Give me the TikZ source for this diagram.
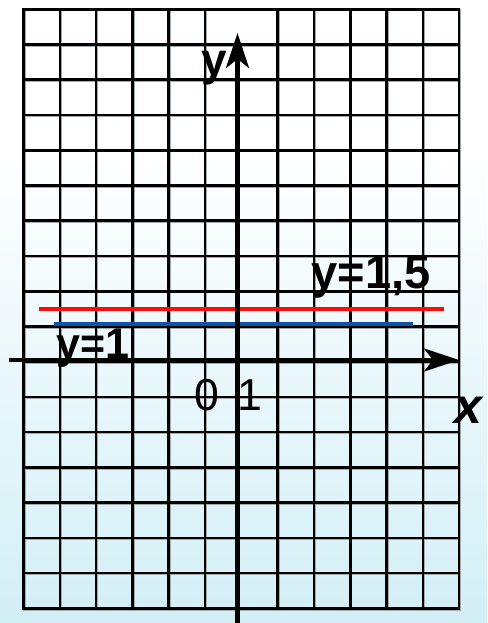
\documentclass[tikz,border=0pt]{standalone}
\usepackage{fontspec}
\setmainfont{Liberation Sans}
\usetikzlibrary{arrows.meta}
\definecolor{bgcyan}{HTML}{D2EFF6}
\definecolor{lineblue}{HTML}{0A55A5}
\definecolor{linered}{HTML}{FF0A0A}
\definecolor{shadowgray}{HTML}{A2ACAF}
\begin{document}
\begin{tikzpicture}[x=1pt,y=-1pt,
  gridline/.style={line width=2.6pt,black,line cap=rect},
  gridshadow/.style={line width=2.6pt,shadowgray,line cap=rect,shift={(0.9,0.9)}},
  axisline/.style={line width=4.6pt,black,-{Stealth[length=35pt,width=23pt,inset=9pt]}},
  graphline/.style={line width=4.8pt},
  boldlabel/.style={font=\bfseries, inner sep=0pt, anchor=base west},
  numlabel/.style={inner sep=0pt, anchor=base, font=\fontsize{44.7}{50}\selectfont}
]
\useasboundingbox (0,0) rectangle (487,623);
\fill[white] (0,0) rectangle (487,623);
\shade[top color=white,bottom color=bgcyan] (0,150) rectangle (487,623);
% grid shadow
\foreach \k in {0,...,17}{\pgfmathsetmacro\yy{9.3+35.24*\k}
  \draw[gridshadow] (23.5,\yy) -- (459,\yy);}
\foreach \j in {0,...,5,7,8,...,12}{\pgfmathsetmacro\xx{23.5+36.3*\j}
  \draw[gridshadow] (\xx,9.3) -- (\xx,608.3);}
% grid
\foreach \k in {0,...,17}{\pgfmathsetmacro\yy{9.3+35.24*\k}
  \draw[gridline] (23.5,\yy) -- (459,\yy);}
\foreach \j in {0,...,5,7,8,...,12}{\pgfmathsetmacro\xx{23.5+36.3*\j}
  \draw[gridline] (\xx,9.3) -- (\xx,608.3);}
% graphs
\coordinate (r1) at (39,309);
\coordinate (r2) at (444,309);
\coordinate (b1) at (54,324);
\coordinate (b2) at (413,324);
\draw[graphline,linered] (r1) -- (r2);
\draw[graphline,lineblue] (b1) -- (b2);
% axes
\coordinate (xs) at (9,360);
\coordinate (xe) at (459,360);
\coordinate (ys) at (237.5,626);
\coordinate (ye) at (237.5,33);
\draw[axisline] (xs) -- (xe);
\draw[axisline] (ys) -- (ye);
% labels
\node[boldlabel,font=\bfseries\fontsize{47}{52}\selectfont] (lab15) at (311.5,288) {y=1,5};
\node[boldlabel,font=\bfseries\fontsize{43}{48}\selectfont] (lab1) at (56.5,358) {y=1};
\node[boldlabel,font=\bfseries\fontsize{46}{50}\selectfont] (ylab) at (201,76) {y};
\node[inner sep=0pt,anchor=base,font=\bfseries\itshape\fontsize{50}{56}\selectfont] (xlab) at (468,423) {x};
\node[numlabel] (zero) at (206.5,410) {0};
\node[numlabel] (one) at (250,410) {1};
\end{tikzpicture}
\end{document}
